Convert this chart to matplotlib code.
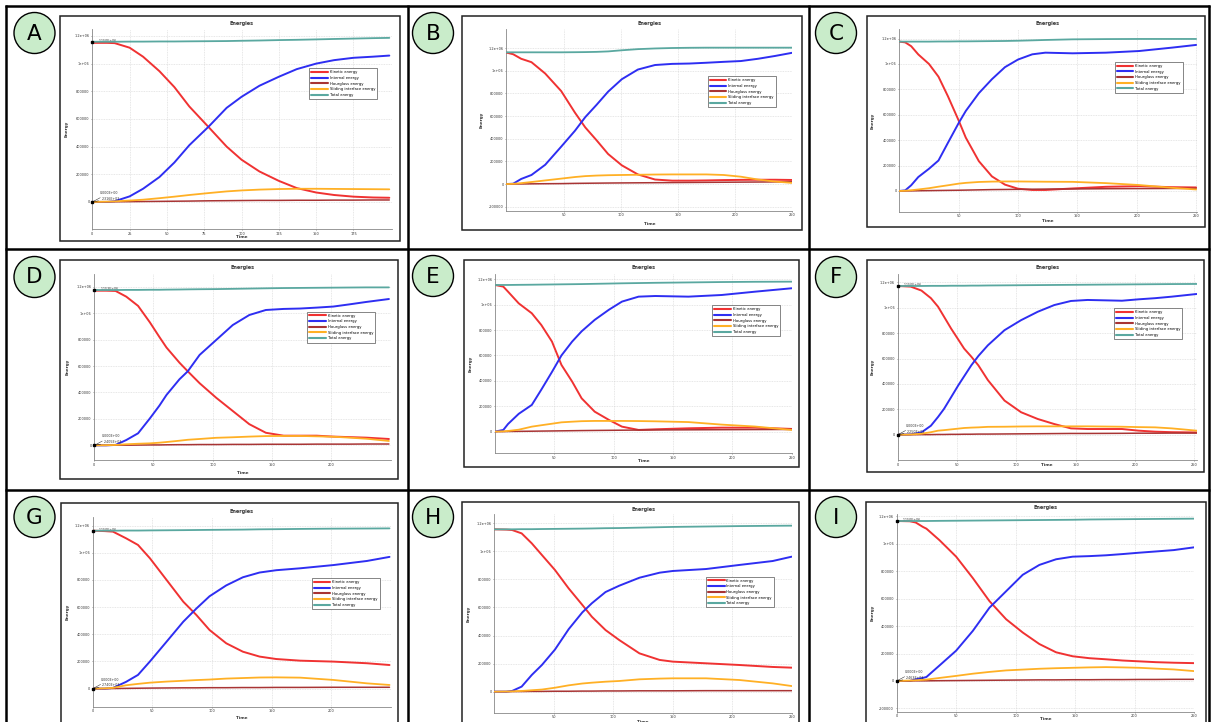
import matplotlib
matplotlib.use('Agg')
import matplotlib.pyplot as plt
from matplotlib.patches import Rectangle, Ellipse
from matplotlib.lines import Line2D
from matplotlib.ticker import FuncFormatter

W, H = 1213, 722

# ---------------- data (energies in thousands) ----------------
series_names = ['Kinetic energy', 'Internal energy', 'Hourglass energy',
                'Sliding interface energy', 'Total energy']

A_t = [0, 10, 15, 25, 34, 45, 55, 65, 78, 90, 100, 112, 125, 137, 150, 162, 175, 188, 199]
A_kin = [1150, 1150, 1148, 1115, 1050, 945, 830, 690, 540, 400, 305, 220, 152, 100, 68, 50, 38, 32, 30]
A_int = [0, 0, 5, 40, 95, 180, 285, 410, 545, 680, 760, 840, 905, 960, 1000, 1025, 1042, 1050, 1058]
A_hg = [0, 1, 1, 2, 3, 4, 5, 6, 8, 9, 10, 11, 11, 12, 12, 13, 13, 14, 14]
A_sl = [0, 2, 4, 10, 16, 27, 38, 50, 64, 76, 83, 89, 93, 95, 95, 94, 93, 92, 91]
A_tot = [1158, 1158, 1158, 1159, 1159, 1160, 1160, 1161, 1162, 1163, 1165, 1167, 1170, 1172, 1175, 1178, 1181, 1184, 1186]

B_t = [0, 6, 13, 22, 34, 48, 60, 69, 79, 89, 101, 115, 130, 145, 160, 175, 190, 205, 220, 235, 250]
B_kin = [1160, 1145, 1105, 1075, 975, 820, 630, 500, 385, 265, 165, 85, 40, 30, 30, 32, 35, 37, 38, 38, 36]
B_int = [0, 3, 45, 80, 170, 330, 470, 590, 700, 815, 925, 1010, 1050, 1060, 1063, 1070, 1078, 1085, 1105, 1130, 1158]
B_hg = [0, 0, 1, 2, 3, 4, 6, 7, 8, 9, 10, 11, 12, 13, 14, 15, 16, 17, 18, 19, 20]
B_sl = [0, 2, 8, 18, 32, 48, 62, 70, 75, 78, 80, 82, 84, 85, 85, 85, 80, 65, 40, 22, 10]
B_tot = [1162, 1162, 1162, 1162, 1162, 1162, 1163, 1164, 1166, 1170, 1180, 1190, 1196, 1200, 1202, 1203, 1203, 1203, 1203, 1203, 1203]

C_t = [0, 5, 10, 16, 25, 33, 41, 50, 56, 67, 78, 89, 100, 112, 123, 146, 174, 202, 230, 250]
C_kin = [1176, 1170, 1140, 1075, 1000, 900, 745, 555, 420, 235, 115, 50, 18, 8, 8, 20, 33, 38, 30, 28]
C_int = [0, 5, 45, 110, 175, 240, 380, 535, 630, 770, 880, 975, 1035, 1076, 1089, 1084, 1089, 1102, 1129, 1150]
C_hg = [0, 0, 1, 2, 3, 4, 5, 6, 7, 9, 11, 12, 13, 14, 15, 16, 18, 19, 20, 21]
C_sl = [0, 2, 6, 12, 22, 34, 45, 58, 64, 71, 74, 75, 75, 74, 73, 72, 62, 47, 25, 12]
C_tot = [1176, 1176, 1176, 1176, 1176, 1177, 1177, 1178, 1178, 1179, 1180, 1181, 1183, 1186, 1189, 1194, 1196, 1197, 1197, 1197]

D_t = [0, 10, 18, 27, 37, 47, 55, 61, 72, 79, 89, 103, 117, 131, 145, 160, 174, 188, 202, 216, 230, 249]
D_kin = [1170, 1170, 1168, 1125, 1055, 930, 820, 740, 625, 560, 470, 360, 260, 160, 95, 73, 73, 73, 66, 62, 58, 48]
D_int = [0, 0, 3, 40, 91, 204, 300, 381, 500, 560, 684, 797, 910, 986, 1024, 1032, 1035, 1042, 1050, 1067, 1085, 1107]
D_hg = [0, 0, 1, 1, 2, 3, 3, 4, 5, 5, 6, 6, 7, 7, 8, 8, 8, 9, 9, 9, 10, 10]
D_sl = [0, 1, 3, 8, 12, 15, 20, 25, 35, 42, 48, 57, 61, 66, 70, 71, 71, 68, 65, 58, 50, 33]
D_tot = [1175, 1175, 1175, 1176, 1176, 1177, 1177, 1178, 1179, 1180, 1181, 1182, 1184, 1186, 1188, 1190, 1191, 1192, 1193, 1194, 1195, 1195]

E_t = [0, 7, 11, 20, 31, 39, 48, 56, 65, 73, 84, 96, 107, 121, 135, 163, 191, 219, 250]
E_kin = [1155, 1142, 1102, 1010, 932, 840, 709, 525, 394, 262, 157, 92, 39, 13, 18, 26, 31, 31, 21]
E_int = [0, 13, 60, 140, 210, 330, 470, 600, 709, 790, 880, 960, 1024, 1063, 1068, 1063, 1076, 1102, 1129]
E_hg = [0, 0, 1, 2, 3, 4, 5, 6, 7, 8, 9, 10, 11, 12, 13, 14, 15, 16, 17]
E_sl = [0, 2, 5, 15, 39, 50, 62, 73, 78, 82, 84, 84, 84, 83, 81, 75, 55, 40, 13]
E_tot = [1155, 1155, 1155, 1156, 1157, 1158, 1159, 1160, 1161, 1162, 1164, 1166, 1168, 1170, 1172, 1175, 1178, 1180, 1181]

F_t = [0, 11, 20, 28, 34, 39, 45, 51, 56, 62, 68, 76, 90, 104, 118, 132, 146, 160, 189, 203, 217, 231, 252]
F_kin = [1171, 1166, 1135, 1075, 1008, 930, 836, 750, 678, 615, 546, 430, 269, 177, 124, 84, 50, 45, 45, 32, 24, 20, 18]
F_int = [0, 3, 18, 71, 140, 203, 295, 388, 460, 546, 620, 704, 823, 902, 968, 1021, 1053, 1061, 1055, 1066, 1075, 1087, 1108]
F_hg = [0, 0, 1, 1, 2, 2, 3, 3, 4, 4, 5, 5, 6, 7, 8, 9, 10, 10, 11, 12, 12, 13, 13]
F_sl = [0, 2, 8, 20, 32, 36, 42, 48, 53, 56, 58, 62, 63, 65, 66, 66, 66, 66, 63, 60, 58, 50, 32]
F_tot = [1171, 1171, 1171, 1172, 1172, 1172, 1173, 1173, 1173, 1174, 1174, 1175, 1176, 1177, 1178, 1179, 1180, 1181, 1183, 1184, 1185, 1186, 1187]

G_t = [0, 10, 17, 28, 38, 48, 62, 76, 87, 98, 112, 126, 140, 154, 174, 202, 230, 249]
G_kin = [1163, 1160, 1156, 1107, 1058, 960, 800, 640, 542, 432, 334, 272, 236, 218, 206, 199, 187, 174]
G_int = [0, 0, 5, 50, 101, 200, 346, 493, 590, 680, 760, 820, 855, 872, 886, 910, 940, 970]
G_hg = [0, 0, 1, 2, 3, 4, 5, 6, 6, 7, 7, 8, 8, 9, 9, 10, 10, 10]
G_sl = [0, 2, 6, 25, 35, 44, 52, 58, 63, 67, 74, 78, 82, 83, 81, 64, 39, 27]
G_tot = [1163, 1163, 1163, 1164, 1164, 1165, 1166, 1167, 1168, 1169, 1170, 1171, 1173, 1174, 1176, 1178, 1179, 1180]

H_t = [0, 10, 15, 23, 31.5, 40, 51, 62.5, 74, 82, 93.5, 105, 122, 139, 150, 178, 206, 234, 250]
H_kin = [1157, 1155, 1152, 1128, 1057, 974, 867, 736, 618, 534, 439, 368, 273, 226, 214, 202, 190, 176, 171]
H_int = [0, 0, 5, 36, 119, 190, 300, 445, 565, 630, 710, 755, 812, 848, 860, 874, 903, 931, 962]
H_hg = [0, 0, 1, 1, 2, 2, 3, 3, 4, 4, 5, 5, 6, 6, 6, 7, 7, 7, 7]
H_sl = [0, 1, 2, 5, 10, 15, 28, 45, 58, 64, 71, 76, 88, 93, 95, 95, 83, 59, 40]
H_tot = [1157, 1157, 1157, 1158, 1158, 1159, 1160, 1161, 1162, 1163, 1165, 1166, 1169, 1172, 1174, 1177, 1180, 1182, 1183]

I_t = [0, 11, 16, 22, 25, 36, 50, 64, 78, 92, 106, 120, 134, 148, 162, 176, 190, 204, 218, 233, 250]
I_kin = [1166, 1164, 1155, 1123, 1110, 1026, 906, 750, 582, 450, 353, 269, 209, 180, 166, 158, 149, 143, 137, 133, 130]
I_int = [0, 0, 12, 22, 29, 113, 221, 365, 534, 654, 774, 846, 887, 906, 910, 916, 925, 935, 944, 954, 974]
I_hg = [0, 0, 1, 1, 1, 2, 3, 4, 5, 6, 7, 8, 8, 9, 9, 10, 10, 11, 11, 12, 12]
I_sl = [0, 3, 5, 8, 10, 22, 37, 53, 66, 77, 83, 89, 93, 96, 99, 101, 99, 96, 90, 84, 72]
I_tot = [1166, 1166, 1166, 1166, 1166, 1167, 1168, 1169, 1170, 1171, 1172, 1173, 1174, 1175, 1177, 1178, 1179, 1180, 1181, 1182, 1183]

# tick labels
xt_A = [0, 25, 50, 75, 100, 125, 150, 175]
xt_B = [50, 100, 150, 200, 250]
xt_C = [50, 100, 150, 200, 250]
xt_D = [0, 50, 100, 150, 200]
xt_E = [50, 100, 150, 200, 250]
xt_F = [0, 50, 100, 150, 200, 250]
xt_G = [0, 50, 100, 150, 200]
xt_H = [50, 100, 150, 200, 250]
xt_I = [0, 50, 100, 150, 200, 250]
yt_main = [0, 200000, 400000, 600000, 800000, 1000000, 1200000]
yt_neg = [-200000, 0, 200000, 400000, 600000, 800000, 1000000, 1200000]

# annotation labels (top value, zero value, second value)
ann_A = ['1.150E+06', '0.000E+00', '2.316E+03']
ann_D = ['1.153E+06', '0.000E+00', '2.405E+03']
ann_F = ['1.150E+06', '0.000E+00', '2.250E+03']
ann_G = ['1.150E+06', '0.000E+00', '2.740E+03']
ann_I = ['1.150E+06', '0.000E+00', '2.463E+03']

# ---------------- styling / layout ----------------
COLORS = ['#f03232', '#2e2ef2', '#a83434', '#ffb025', '#5aa8a0']
LWS = [1.4, 1.4, 1.1, 1.3, 1.3]

panels = [
    dict(L='A', t=A_t, d=[A_kin, A_int, A_hg, A_sl, A_tot], frame=(60, 16, 400, 241),
         ax=(92.3, 29.3, 391.7, 229.3), xlim=(0, 200.6), ylim=(-198e3, 1248e3), xt=xt_A, yt=yt_main,
         leg=(0.724, 0.806), ann=ann_A, circ=(34.5, 33), ty=24, xly=237, ylx=67),
    dict(L='B', t=B_t, d=[B_kin, B_int, B_hg, B_sl, B_tot], frame=(462, 16, 802, 230),
         ax=(506.3, 29.3, 792.3, 210.7), xlim=(0, 250), ylim=(-235e3, 1365e3), xt=xt_B, yt=yt_neg,
         leg=(0.704, 0.742), ann=None, circ=(433, 33), ty=24, xly=224, ylx=482),
    dict(L='C', t=C_t, d=[C_kin, C_int, C_hg, C_sl, C_tot], frame=(867, 16, 1205, 227),
         ax=(899.3, 29.3, 1196.7, 211.7), xlim=(0, 250.5), ylim=(-163e3, 1273e3), xt=xt_C, yt=yt_main,
         leg=(0.725, 0.822), ann=None, circ=(836, 33), ty=24, xly=221, ylx=873),
    dict(L='D', t=D_t, d=[D_kin, D_int, D_hg, D_sl, D_tot], frame=(60, 260, 398, 479),
         ax=(94.3, 274.3, 390.7, 460), xlim=(0, 250.5), ylim=(-111e3, 1294e3), xt=xt_D, yt=yt_main,
         leg=(0.719, 0.799), ann=ann_D, circ=(34.5, 277), ty=268, xly=473, ylx=68),
    dict(L='E', t=E_t, d=[E_kin, E_int, E_hg, E_sl, E_tot], frame=(464, 260, 799, 467),
         ax=(495, 274.3, 791.7, 453.3), xlim=(0, 250), ylim=(-171e3, 1239e3), xt=xt_E, yt=yt_main,
         leg=(0.732, 0.828), ann=None, circ=(433, 276), ty=268, xly=461, ylx=471),
    dict(L='F', t=F_t, d=[F_kin, F_int, F_hg, F_sl, F_tot], frame=(867, 260, 1204, 472),
         ax=(897.7, 274.3, 1196.7, 460), xlim=(0, 252), ylim=(-199e3, 1263e3), xt=xt_F, yt=yt_main,
         leg=(0.724, 0.817), ann=ann_F, circ=(836, 277), ty=268, xly=465, ylx=873),
    dict(L='G', t=G_t, d=[G_kin, G_int, G_hg, G_sl, G_tot], frame=(61, 503, 398, 735),
         ax=(92.7, 516.7, 390.7, 706.7), xlim=(0, 250), ylim=(-133e3, 1266e3), xt=xt_G, yt=yt_main,
         leg=(0.735, 0.676), ann=ann_G, circ=(34.5, 517), ty=512, xly=718, ylx=68),
    dict(L='H', t=H_t, d=[H_kin, H_int, H_hg, H_sl, H_tot], frame=(462, 502, 799, 735),
         ax=(494.3, 514.3, 791.7, 712.7), xlim=(0, 250), ylim=(-150e3, 1264e3), xt=xt_H, yt=yt_main,
         leg=(0.712, 0.686), ann=None, circ=(433, 517), ty=510, xly=722, ylx=469),
    dict(L='I', t=I_t, d=[I_kin, I_int, I_hg, I_sl, I_tot], frame=(866, 502, 1206, 735),
         ax=(896.7, 514, 1194, 711.7), xlim=(0, 250), ylim=(-224e3, 1217e3), xt=xt_I, yt=yt_neg,
         leg=None, ann=ann_I, circ=(836, 517), ty=508, xly=719, ylx=873),
]

fig = plt.figure(figsize=(W / 100, H / 100), dpi=100)
fig.patch.set_facecolor('white')


def fx(x):
    return x / W


def fy(y):
    return 1 - y / H


# table lines
LINE = dict(color='black', lw=1.8, transform=fig.transFigure, solid_capstyle='butt')
for x in [6, 407.5, 808.5, 1209]:
    fig.add_artist(Line2D([fx(x), fx(x)], [fy(5), fy(722)], **LINE))
for y in [6, 249, 490]:
    fig.add_artist(Line2D([fx(5), fx(1210)], [fy(y), fy(y)], **LINE))

fmt = FuncFormatter(lambda v, p: '%g' % v)

for P in panels:
    # screenshot frame
    l, t, r, b = P['frame']
    fig.add_artist(Rectangle((fx(l), fy(b)), fx(r - l), (b - t) / H, transform=fig.transFigure,
                             facecolor='white', edgecolor='#222222', lw=1.1, zorder=1))
    # label circle
    cx, cy = P['circ']
    fig.add_artist(Ellipse((fx(cx), fy(cy)), 41 / W, 41 / H, transform=fig.transFigure,
                           facecolor='#c9ecca', edgecolor='black', lw=1.0, zorder=3))
    fig.text(fx(cx), fy(cy + 0.5), P['L'], ha='center', va='center', fontsize=15.5,
             family='DejaVu Sans', zorder=4)

    al, at, ar, ab = P['ax']
    ax = fig.add_axes([fx(al), fy(ab), (ar - al) / W, (ab - at) / H], zorder=2)
    ax.set_facecolor('white')
    tt = P['t']
    handles = []
    for k, vals in enumerate(P['d']):
        h, = ax.plot(tt, [v * 1000 for v in vals], color=COLORS[k], lw=LWS[k],
                     label=series_names[k], solid_capstyle='round', solid_joinstyle='round',
                     zorder=3 + (k == 4))
        handles.append(h)
    ax.set_xlim(*P['xlim'])
    ax.set_ylim(*P['ylim'])
    ax.set_xticks(P['xt'])
    ax.set_yticks(P['yt'])
    ax.xaxis.set_major_formatter(fmt)
    ax.yaxis.set_major_formatter(fmt)
    ax.tick_params(labelsize=2.5, length=1.0, width=0.4, pad=0.9, colors='#555555', labelcolor='#333333')
    ax.grid(True, color='#cfcfcf', lw=0.4, linestyle=(0, (1.5, 1.5)))
    for s in ['top', 'right']:
        ax.spines[s].set_visible(False)
    for s in ['left', 'bottom']:
        ax.spines[s].set_color('#888888')
        ax.spines[s].set_linewidth(0.6)
    # titles / labels
    fig.text(fx((al + ar) / 2), fy(P['ty']), 'Energies', ha='center', va='center',
             fontsize=3.5, fontweight='bold', color='#333333')
    fig.text(fx((al + ar) / 2), fy(P['xly']), 'Time', ha='center', va='center',
             fontsize=3.0, fontweight='bold', color='#333333')
    fig.text(fx(P['ylx']), fy((at + ab) / 2), 'Energy', ha='center', va='center', rotation=90,
             fontsize=3.0, fontweight='bold', color='#333333')
    if P['leg'] is not None:
        lg = ax.legend(handles=handles, loc='upper left', bbox_to_anchor=P['leg'], fontsize=2.7,
                       handlelength=4.4, handletextpad=0.5, labelspacing=0.45, borderpad=0.55,
                       borderaxespad=0, fancybox=False, framealpha=1, edgecolor='#555555')
        lg.get_frame().set_linewidth(0.5)
        for ln in lg.get_lines():
            ln.set_linewidth(1.5)
    if P['ann'] is not None:
        top = P['d'][4][0] * 1000
        ax.plot([0], [top], 's', ms=1.6, color='black', clip_on=False, zorder=6)
        ax.plot([0], [0], 's', ms=1.6, color='black', clip_on=False, zorder=6)
        ax.annotate(P['ann'][0], xy=(0, top), xytext=(4.5, 0.8), textcoords='offset points',
                    fontsize=2.3, color='#333333', va='center',
                    arrowprops=dict(arrowstyle='-', lw=0.3, color='black', shrinkA=0, shrinkB=0))
        ax.annotate(P['ann'][1], xy=(0, 0), xytext=(5.5, 6.5), textcoords='offset points',
                    fontsize=2.3, color='#333333', va='center',
                    arrowprops=dict(arrowstyle='-', lw=0.3, color='black', shrinkA=0, shrinkB=0))
        ax.annotate(P['ann'][2], xy=(0, 0), xytext=(6.5, 2.3), textcoords='offset points',
                    fontsize=2.3, color='#333333', va='center',
                    arrowprops=dict(arrowstyle='-', lw=0.3, color='black', shrinkA=0, shrinkB=0))

fig.savefig('out.png', dpi=100, facecolor='white')
